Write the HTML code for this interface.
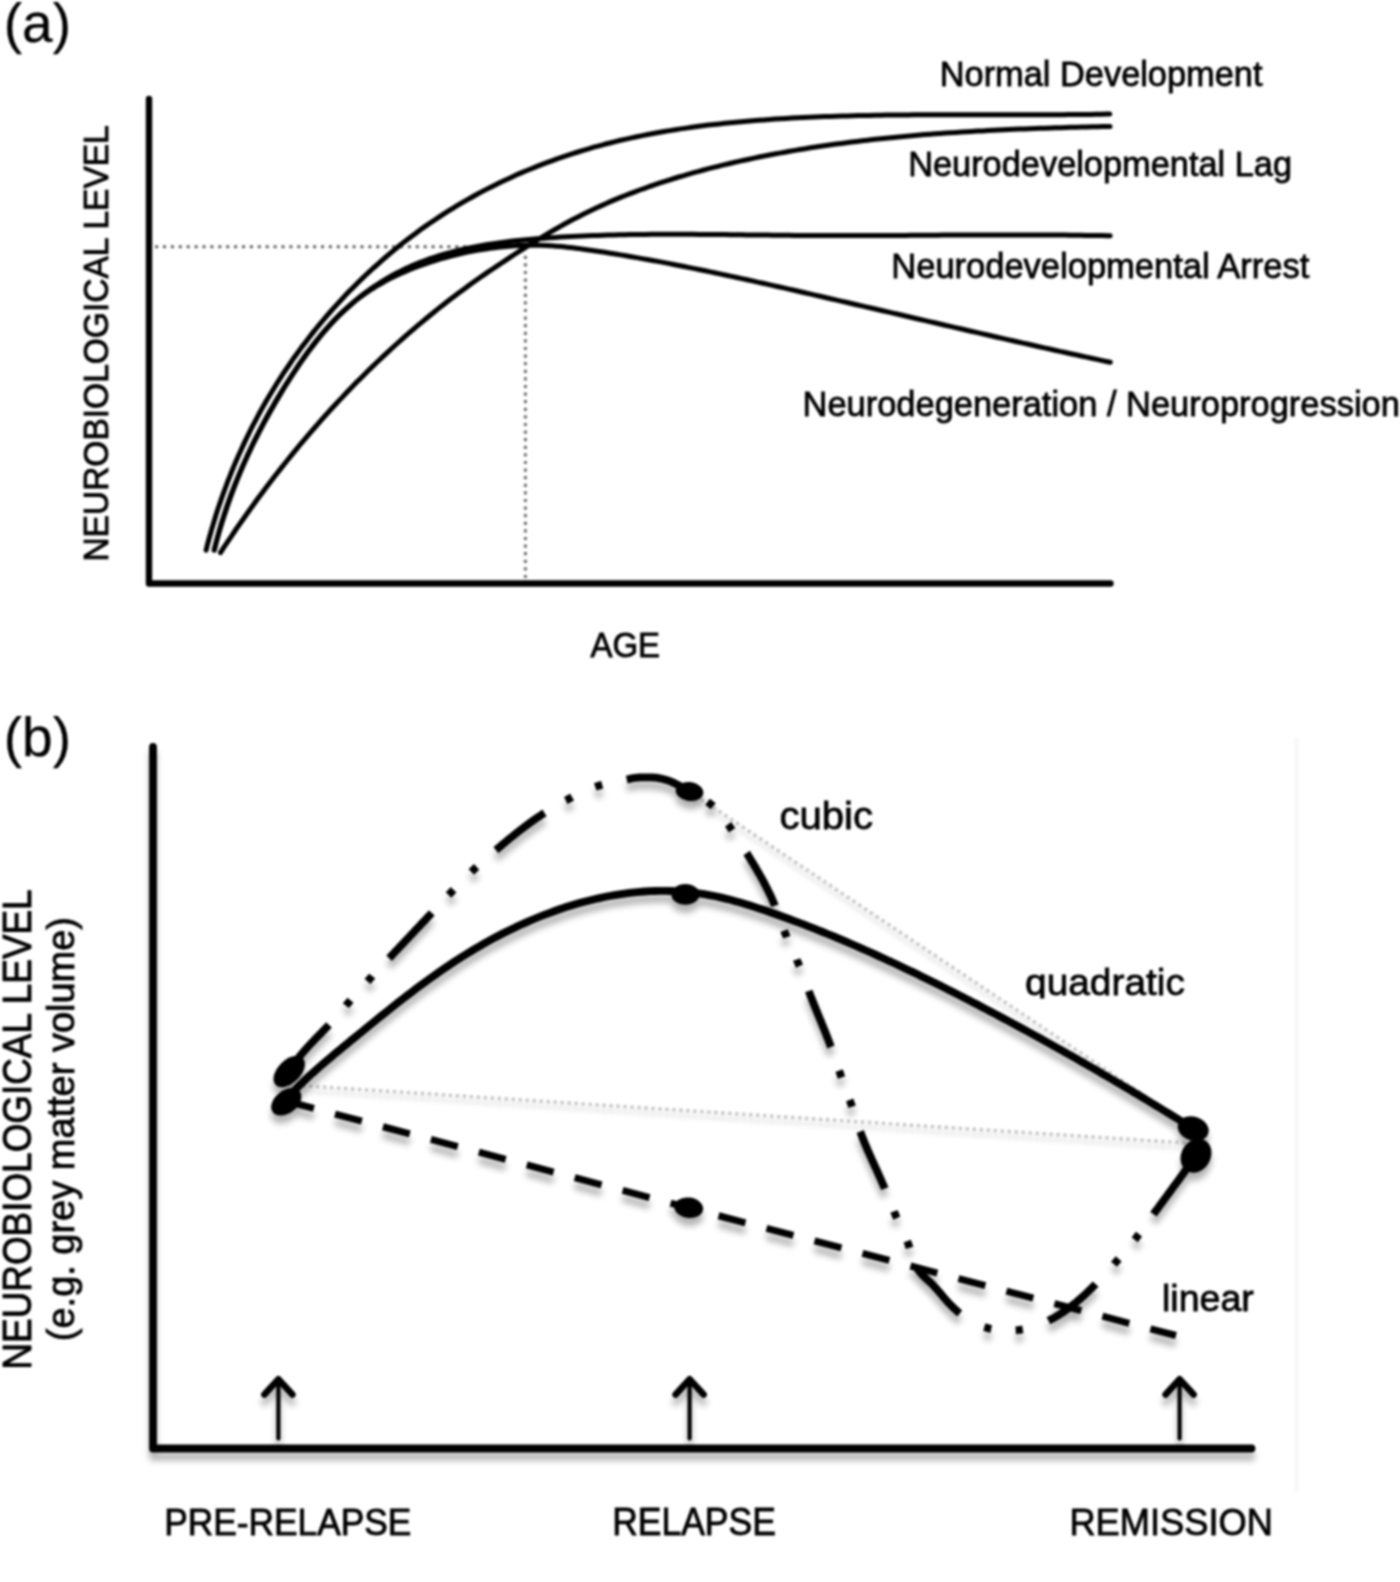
<!DOCTYPE html>
<html><head><meta charset="utf-8"><title>Figure</title>
<style>html,body{margin:0;padding:0;background:#fff;}body{width:1400px;height:1582px;overflow:hidden;font-family:"Liberation Sans",sans-serif;}svg{display:block;filter:grayscale(1) blur(1px);}</style>
</head><body>
<svg width="1400" height="1582" viewBox="0 0 1400 1582" font-family="Liberation Sans, sans-serif">
<defs>
<filter id="sh" x="-20%" y="-20%" width="140%" height="140%">
<feGaussianBlur in="SourceAlpha" stdDeviation="3.2"/>
<feOffset dx="0" dy="8" result="o"/>
<feComponentTransfer><feFuncA type="linear" slope="0.30"/></feComponentTransfer>
<feMerge><feMergeNode/><feMergeNode in="SourceGraphic"/></feMerge>
</filter>
<filter id="sh2" x="-20%" y="-20%" width="140%" height="140%">
<feGaussianBlur in="SourceAlpha" stdDeviation="2.6"/>
<feOffset dx="0" dy="5" result="o"/>
<feComponentTransfer><feFuncA type="linear" slope="0.2"/></feComponentTransfer>
<feMerge><feMergeNode/><feMergeNode in="SourceGraphic"/></feMerge>
</filter>
<clipPath id="qclip"><rect x="1000" y="940" width="220" height="58.5"/></clipPath>
</defs>
<rect width="1400" height="1582" fill="#fff"/>
<path d="M149,99 L149,583.5 L1110.5,583.5" fill="none" stroke="#000" stroke-width="6.4" stroke-linecap="round" stroke-linejoin="round"/>
<path d="M155,246.8 L526,246.8" stroke="#6a6a6a" stroke-width="3" stroke-dasharray="3.2,4.7"/>
<path d="M525.4,252 L525.4,581" stroke="#707070" stroke-width="3" stroke-dasharray="3.2,4.4" stroke-dashoffset="-3.7"/>
<path d="M206.1,550.2 L207.4,544.8 L208.8,539.5 L210.3,534.2 L211.8,528.9 L213.4,523.6 L215.0,518.3 L216.6,513.1 L218.3,507.8 L220.1,502.6 L221.9,497.4 L223.8,492.2 L225.7,487.0 L227.6,481.8 L229.7,476.6 L231.7,471.5 L233.8,466.4 L236.0,461.3 L238.2,456.2 L240.5,451.2 L242.8,446.1 L245.1,441.1 L247.6,436.1 L250.0,431.1 L252.5,426.2 L255.1,421.3 L257.7,416.4 L260.3,411.5 L263.1,406.6 L265.8,401.8 L268.6,397.0 L271.5,392.2 L274.4,387.5 L277.3,382.8 L280.3,378.1 L283.3,373.4 L286.4,368.8 L289.6,364.2 L292.7,359.6 L296.0,355.1 L299.2,350.6 L302.5,346.1 L305.9,341.7 L309.3,337.3 L312.7,332.9 L316.2,328.5 L319.8,324.2 L323.3,320.0 L327.0,315.7 L330.6,311.5 L334.3,307.4 L338.0,303.3 L341.8,299.2 L345.6,295.1 L349.5,291.1 L353.4,287.2 L357.3,283.2 L361.3,279.4 L365.3,275.5 L369.4,271.7 L373.4,268.0 L377.6,264.3 L381.7,260.6 L385.9,257.0 L390.1,253.4 L394.4,249.8 L398.7,246.3 L403.0,242.9 L407.4,239.5 L411.8,236.2 L416.2,232.9 L420.7,229.6 L425.2,226.4 L429.7,223.3 L434.3,220.2 L438.9,217.1 L443.5,214.1 L448.1,211.2 L452.8,208.3 L457.5,205.4 L462.2,202.6 L467.0,199.9 L471.8,197.2 L476.6,194.5 L481.5,191.9 L486.3,189.4 L491.2,186.9 L496.2,184.4 L501.1,182.0 L506.1,179.7 L511.1,177.4 L516.1,175.1 L521.1,172.9 L526.2,170.8 L531.3,168.7 L536.4,166.6 L541.5,164.6 L546.7,162.7 L551.8,160.8 L557.0,158.9 L562.2,157.1 L567.4,155.3 L572.7,153.6 L577.9,152.0 L583.2,150.3 L588.5,148.8 L593.8,147.2 L599.1,145.8 L604.5,144.3 L609.8,143.0 L615.2,141.6 L620.6,140.3 L626.0,139.1 L631.4,137.9 L636.8,136.7 L642.2,135.6 L647.7,134.5 L653.1,133.5 L658.6,132.5 L664.1,131.5 L669.6,130.6 L675.1,129.7 L680.6,128.9 L686.1,128.1 L691.6,127.3 L697.1,126.5 L702.6,125.8 L708.2,125.1 L713.7,124.5 L719.3,123.9 L724.8,123.3 L730.4,122.7 L735.9,122.2 L741.5,121.7 L747.1,121.2 L752.6,120.7 L758.2,120.3 L763.8,119.9 L769.4,119.5 L774.9,119.1 L780.5,118.8 L786.1,118.4 L791.6,118.1 L797.2,117.8 L802.8,117.5 L808.3,117.3 L813.9,117.0 L819.5,116.8 L825.0,116.6 L830.6,116.4 L836.1,116.2 L841.7,116.0 L847.2,115.9 L852.8,115.7 L858.3,115.6 L863.9,115.5 L869.4,115.4 L875.0,115.3 L880.5,115.2 L886.1,115.1 L891.6,115.0 L897.1,115.0 L902.7,114.9 L908.2,114.9 L913.7,114.8 L919.3,114.8 L924.8,114.8 L930.3,114.8 L935.9,114.7 L941.4,114.7 L946.9,114.7 L952.4,114.7 L958.0,114.7 L963.5,114.7 L969.0,114.7 L974.5,114.7 L980.0,114.7 L985.6,114.7 L991.1,114.8 L996.6,114.8 L1002.1,114.8 L1007.6,114.8 L1013.2,114.8 L1018.7,114.8 L1024.2,114.8 L1029.7,114.8 L1035.2,114.8 L1040.7,114.8 L1046.3,114.7 L1051.8,114.7 L1057.3,114.7 L1062.8,114.7 L1068.3,114.6 L1073.9,114.6 L1079.4,114.5 L1084.9,114.5 L1090.4,114.4 L1095.9,114.3 L1101.4,114.2 L1107.0,114.1 L1109.7,114.1" fill="none" stroke="#000" stroke-width="5.0" stroke-linecap="round" stroke-linejoin="round"/>
<path d="M220.5,552.6 L223.3,548.2 L226.2,543.9 L229.1,539.6 L232.0,535.3 L234.9,531.0 L237.8,526.7 L240.8,522.5 L243.8,518.2 L246.8,514.0 L249.8,509.7 L252.9,505.5 L255.9,501.3 L259.0,497.1 L262.1,492.9 L265.2,488.8 L268.4,484.6 L271.5,480.5 L274.7,476.3 L277.9,472.2 L281.1,468.1 L284.4,464.0 L287.6,460.0 L290.9,455.9 L294.2,451.9 L297.5,447.9 L300.8,443.8 L304.2,439.9 L307.6,435.9 L311.0,431.9 L314.4,428.0 L317.8,424.1 L321.2,420.1 L324.7,416.3 L328.2,412.4 L331.7,408.5 L335.2,404.7 L338.8,400.9 L342.4,397.1 L346.0,393.3 L349.6,389.5 L353.2,385.8 L356.8,382.1 L360.5,378.4 L364.2,374.7 L367.9,371.0 L371.6,367.4 L375.4,363.8 L379.1,360.2 L382.9,356.6 L386.7,353.1 L390.6,349.5 L394.4,346.0 L398.3,342.5 L402.1,339.1 L406.0,335.6 L410.0,332.2 L413.9,328.8 L417.9,325.4 L421.9,322.1 L425.9,318.8 L429.9,315.5 L433.9,312.2 L438.0,308.9 L442.1,305.7 L446.2,302.5 L450.3,299.3 L454.4,296.2 L458.6,293.1 L462.8,290.0 L466.9,286.9 L471.2,283.8 L475.4,280.8 L479.7,277.8 L483.9,274.9 L488.2,271.9 L492.6,269.0 L496.9,266.1 L501.2,263.2 L505.6,260.3 L510.0,257.4 L514.4,254.5 L518.8,251.7 L523.3,248.8 L527.8,245.9 L532.2,243.1 L536.7,240.3 L541.3,237.6 L545.8,234.8 L550.3,232.1 L554.9,229.5 L559.5,226.9 L564.1,224.3 L568.7,221.8 L573.3,219.3 L578.0,216.9 L582.7,214.5 L587.3,212.2 L592.0,210.0 L596.7,207.7 L601.5,205.6 L606.2,203.5 L610.9,201.4 L615.7,199.4 L620.5,197.4 L625.3,195.5 L630.1,193.6 L634.9,191.8 L639.7,190.0 L644.6,188.3 L649.4,186.5 L654.3,184.9 L659.2,183.2 L664.1,181.6 L669.0,180.1 L673.9,178.5 L678.8,177.0 L683.8,175.6 L688.7,174.1 L693.7,172.7 L698.7,171.4 L703.6,170.0 L708.6,168.7 L713.6,167.4 L718.7,166.2 L723.7,164.9 L728.7,163.7 L733.7,162.5 L738.8,161.4 L743.9,160.3 L748.9,159.2 L754.0,158.1 L759.1,157.0 L764.2,156.0 L769.3,155.0 L774.4,154.0 L779.5,153.1 L784.6,152.2 L789.7,151.2 L794.9,150.4 L800.0,149.5 L805.2,148.7 L810.3,147.8 L815.5,147.0 L820.6,146.3 L825.8,145.5 L831.0,144.8 L836.2,144.1 L841.3,143.4 L846.5,142.7 L851.7,142.0 L856.9,141.4 L862.1,140.8 L867.3,140.2 L872.5,139.6 L877.8,139.0 L883.0,138.5 L888.2,137.9 L893.4,137.4 L898.6,136.9 L903.9,136.4 L909.1,136.0 L914.3,135.5 L919.6,135.1 L924.8,134.6 L930.0,134.2 L935.3,133.8 L940.5,133.5 L945.7,133.1 L951.0,132.7 L956.2,132.4 L961.5,132.1 L966.7,131.7 L971.9,131.4 L977.2,131.1 L982.4,130.9 L987.7,130.6 L992.9,130.3 L998.1,130.1 L1003.4,129.8 L1008.6,129.6 L1013.8,129.3 L1019.1,129.1 L1024.3,128.9 L1029.5,128.7 L1034.7,128.5 L1040.0,128.3 L1045.2,128.2 L1050.4,128.0 L1055.6,127.8 L1060.8,127.7 L1066.0,127.5 L1071.2,127.3 L1076.4,127.2 L1081.6,127.1 L1086.8,126.9 L1091.9,126.8 L1097.1,126.7 L1102.3,126.5 L1107.4,126.4 L1110.0,126.4" fill="none" stroke="#000" stroke-width="5.0" stroke-linecap="round" stroke-linejoin="round"/>
<path d="M214.4,549.9 L215.6,544.8 L216.9,539.6 L218.3,534.5 L219.7,529.4 L221.1,524.3 L222.7,519.3 L224.3,514.2 L225.9,509.2 L227.6,504.2 L229.4,499.2 L231.2,494.2 L233.1,489.3 L235.1,484.3 L237.1,479.4 L239.1,474.5 L241.2,469.6 L243.3,464.8 L245.5,459.9 L247.7,455.1 L250.0,450.3 L252.3,445.5 L254.7,440.7 L257.1,436.0 L259.5,431.3 L262.0,426.5 L264.5,421.8 L267.1,417.2 L269.7,412.5 L272.3,407.9 L275.0,403.3 L277.7,398.7 L280.4,394.1 L283.1,389.5 L285.9,385.0 L288.7,380.5 L291.5,376.0 L294.4,371.5 L297.3,367.1 L300.3,362.7 L303.3,358.3 L306.4,354.0 L309.5,349.7 L312.7,345.5 L315.9,341.3 L319.2,337.2 L322.6,333.1 L326.1,329.1 L329.6,325.2 L333.2,321.3 L336.8,317.5 L340.6,313.8 L344.5,310.1 L348.4,306.6 L352.4,303.1 L356.5,299.6 L360.7,296.3 L364.9,293.1 L369.2,289.9 L373.6,286.9 L378.0,284.0 L382.5,281.1 L387.1,278.4 L391.7,275.8 L396.3,273.3 L401.0,270.9 L405.8,268.6 L410.5,266.4 L415.4,264.3 L420.2,262.4 L425.1,260.5 L430.0,258.7 L435.0,257.1 L440.0,255.5 L445.1,254.0 L450.1,252.6 L455.2,251.2 L460.3,250.0 L465.5,248.8 L470.6,247.7 L475.8,246.7 L481.0,245.7 L486.3,244.8 L491.5,243.9 L496.8,243.2 L502.1,242.4 L507.4,241.8 L512.7,241.1 L518.0,240.5 L523.3,240.0 L528.6,239.5 L534.0,239.0 L539.3,238.6 L544.6,238.2 L550.0,237.8 L555.3,237.5 L560.7,237.1 L566.0,236.8 L571.3,236.5 L576.7,236.3 L582.0,236.0 L587.3,235.8 L592.7,235.6 L598.0,235.4 L603.3,235.2 L608.6,235.1 L614.0,234.9 L619.3,234.8 L624.6,234.7 L629.9,234.6 L635.2,234.5 L640.6,234.5 L645.9,234.4 L651.2,234.3 L656.5,234.3 L661.8,234.3 L667.1,234.3 L672.4,234.3 L677.7,234.3 L683.0,234.3 L688.3,234.3 L693.6,234.3 L698.9,234.4 L704.2,234.4 L709.5,234.5 L714.8,234.5 L720.1,234.6 L725.4,234.6 L730.7,234.7 L736.0,234.7 L741.3,234.8 L746.6,234.9 L751.9,234.9 L757.2,235.0 L762.5,235.1 L767.8,235.1 L773.1,235.2 L778.4,235.2 L783.7,235.3 L789.0,235.3 L794.3,235.4 L799.5,235.4 L804.8,235.5 L810.1,235.5 L815.4,235.5 L820.7,235.5 L826.0,235.5 L831.3,235.6 L836.6,235.6 L841.9,235.6 L847.2,235.6 L852.5,235.6 L857.8,235.5 L863.0,235.5 L868.3,235.5 L873.6,235.5 L878.9,235.5 L884.2,235.5 L889.5,235.4 L894.8,235.4 L900.1,235.4 L905.4,235.4 L910.7,235.3 L916.0,235.3 L921.3,235.3 L926.6,235.2 L931.9,235.2 L937.2,235.2 L942.5,235.1 L947.8,235.1 L953.1,235.1 L958.4,235.1 L963.7,235.0 L969.0,235.0 L974.3,235.0 L979.6,235.0 L984.9,234.9 L990.2,234.9 L995.5,234.9 L1000.9,234.9 L1006.2,234.9 L1011.5,234.9 L1016.8,234.9 L1022.1,234.9 L1027.4,234.9 L1032.8,234.9 L1038.1,235.0 L1043.4,235.0 L1048.7,235.0 L1054.1,235.0 L1059.4,235.1 L1064.7,235.1 L1070.0,235.2 L1075.4,235.2 L1080.7,235.3 L1086.1,235.4 L1091.4,235.5 L1096.7,235.6 L1102.1,235.6 L1107.4,235.8 L1110.1,235.8" fill="none" stroke="#000" stroke-width="5.0" stroke-linecap="round" stroke-linejoin="round"/>
<path d="M214.1,550.1 L215.5,544.8 L217.0,539.6 L218.4,534.4 L219.9,529.2 L221.5,524.1 L223.1,518.9 L224.8,513.8 L226.5,508.7 L228.2,503.6 L230.0,498.6 L231.8,493.6 L233.7,488.6 L235.6,483.6 L237.6,478.6 L239.6,473.7 L241.7,468.7 L243.8,463.8 L246.0,458.9 L248.1,454.1 L250.4,449.2 L252.7,444.4 L255.0,439.6 L257.4,434.9 L259.8,430.1 L262.3,425.4 L264.8,420.7 L267.3,416.0 L269.9,411.3 L272.6,406.7 L275.2,402.0 L278.0,397.4 L280.8,392.9 L283.6,388.3 L286.4,383.8 L289.4,379.3 L292.3,374.8 L295.3,370.3 L298.3,365.8 L301.4,361.4 L304.6,357.0 L307.7,352.6 L311.0,348.3 L314.3,344.0 L317.6,339.7 L321.0,335.5 L324.4,331.4 L328.0,327.3 L331.6,323.3 L335.2,319.4 L339.0,315.6 L342.8,311.9 L346.7,308.3 L350.7,304.8 L354.7,301.4 L358.9,298.1 L363.2,294.9 L367.5,291.9 L371.9,289.0 L376.5,286.2 L381.1,283.5 L385.7,280.9 L390.5,278.4 L395.3,276.0 L400.1,273.7 L405.0,271.6 L410.0,269.5 L415.0,267.5 L420.0,265.6 L425.1,263.8 L430.2,262.1 L435.3,260.5 L440.4,258.9 L445.6,257.5 L450.8,256.1 L456.0,254.8 L461.2,253.6 L466.4,252.4 L471.6,251.4 L476.9,250.4 L482.1,249.5 L487.4,248.7 L492.7,247.9 L498.0,247.3 L503.3,246.7 L508.6,246.2 L513.9,245.8 L519.2,245.5 L524.5,245.3 L529.9,245.1 L535.2,245.2 L540.6,245.3 L545.9,245.5 L551.3,245.8 L556.6,246.2 L562.0,246.6 L567.3,247.2 L572.7,247.8 L578.0,248.4 L583.4,249.2 L588.7,249.9 L594.1,250.7 L599.4,251.5 L604.7,252.3 L610.1,253.2 L615.4,254.0 L620.7,254.9 L626.0,255.8 L631.3,256.7 L636.6,257.6 L641.9,258.6 L647.2,259.5 L652.5,260.5 L657.8,261.4 L663.1,262.4 L668.4,263.4 L673.7,264.5 L678.9,265.5 L684.2,266.5 L689.5,267.6 L694.7,268.6 L700.0,269.7 L705.2,270.8 L710.5,271.9 L715.7,273.0 L721.0,274.1 L726.2,275.2 L731.5,276.4 L736.7,277.5 L741.9,278.6 L747.2,279.8 L752.4,280.9 L757.6,282.1 L762.9,283.2 L768.1,284.4 L773.3,285.6 L778.5,286.8 L783.7,287.9 L788.9,289.1 L794.2,290.3 L799.4,291.5 L804.6,292.7 L809.8,293.9 L815.0,295.1 L820.2,296.3 L825.4,297.5 L830.6,298.7 L835.8,299.9 L841.0,301.1 L846.2,302.3 L851.4,303.5 L856.6,304.7 L861.8,305.9 L867.0,307.1 L872.2,308.3 L877.4,309.5 L882.6,310.7 L887.8,311.9 L893.0,313.1 L898.2,314.3 L903.4,315.5 L908.6,316.8 L913.8,318.0 L919.1,319.2 L924.3,320.4 L929.5,321.6 L934.7,322.8 L939.9,324.0 L945.1,325.2 L950.3,326.4 L955.5,327.6 L960.7,328.8 L965.9,330.0 L971.1,331.2 L976.4,332.4 L981.6,333.6 L986.8,334.8 L992.0,336.0 L997.2,337.2 L1002.5,338.4 L1007.7,339.6 L1012.9,340.8 L1018.2,342.0 L1023.4,343.1 L1028.6,344.3 L1033.9,345.5 L1039.1,346.7 L1044.4,347.9 L1049.6,349.0 L1054.9,350.2 L1060.1,351.4 L1065.4,352.5 L1070.7,353.7 L1075.9,354.8 L1081.2,356.0 L1086.5,357.1 L1091.7,358.3 L1097.0,359.4 L1102.3,360.6 L1107.6,361.7 L1110.3,362.3" fill="none" stroke="#000" stroke-width="5.0" stroke-linecap="round" stroke-linejoin="round"/>
<line x1="1296.5" y1="737" x2="1296.5" y2="1492" stroke="#f9f9f9" stroke-width="5"/>
<g filter="url(#sh2)">
<path d="M288,1084.8 L1194,1143.5" stroke="#cacaca" stroke-width="3.6" stroke-dasharray="3.5,3.5"/>
<path d="M689.5,791.5 L1193,1128" stroke="#cacaca" stroke-width="3.6" stroke-dasharray="3.5,3.5"/>
</g>
<g filter="url(#sh)">
<path d="M153,747 L153,1448.5 L1251.5,1448.5" fill="none" stroke="#000" stroke-width="7.8" stroke-linecap="round" stroke-linejoin="round"/>
<path d="M278.4,1438.5 L278.4,1381" stroke="#000" stroke-width="4.2" stroke-linecap="round"/>
<path d="M264.4,1394.5 L278.4,1379.2 L292.4,1394.5" fill="none" stroke="#000" stroke-width="6.6" stroke-linecap="round" stroke-linejoin="round"/>
<path d="M689.6,1438.5 L689.6,1381" stroke="#000" stroke-width="4.2" stroke-linecap="round"/>
<path d="M675.6,1394.5 L689.6,1379.2 L703.6,1394.5" fill="none" stroke="#000" stroke-width="6.6" stroke-linecap="round" stroke-linejoin="round"/>
<path d="M1179.6,1438.5 L1179.6,1381" stroke="#000" stroke-width="4.2" stroke-linecap="round"/>
<path d="M1165.6,1394.5 L1179.6,1379.2 L1193.6,1394.5" fill="none" stroke="#000" stroke-width="6.6" stroke-linecap="round" stroke-linejoin="round"/>
<path d="M286,1101 L687,1207.5 L1176,1335.5" fill="none" stroke="#000" stroke-width="7.0" stroke-dasharray="27.8,21.8" stroke-dashoffset="-1.1"/>
<path d="M286.6,1098.9 L290.2,1095.0 L293.8,1091.2 L297.4,1087.5 L301.1,1083.8 L304.9,1080.2 L308.6,1076.7 L312.4,1073.2 L316.3,1069.8 L320.1,1066.4 L324.0,1063.0 L327.9,1059.7 L331.8,1056.4 L335.7,1053.1 L339.7,1049.9 L343.6,1046.6 L347.6,1043.4 L351.5,1040.1 L355.5,1036.9 L359.4,1033.7 L363.4,1030.4 L367.3,1027.2 L371.3,1024.0 L375.3,1020.8 L379.2,1017.6 L383.2,1014.4 L387.2,1011.2 L391.2,1008.0 L395.2,1004.8 L399.2,1001.7 L403.3,998.5 L407.3,995.4 L411.4,992.3 L415.5,989.2 L419.5,986.2 L423.7,983.1 L427.8,980.1 L432.0,977.1 L436.1,974.2 L440.3,971.2 L444.6,968.3 L448.8,965.5 L453.1,962.6 L457.4,959.8 L461.7,957.0 L466.1,954.3 L470.5,951.6 L474.9,948.9 L479.4,946.3 L483.9,943.7 L488.4,941.2 L492.9,938.7 L497.5,936.2 L502.2,933.8 L506.8,931.5 L511.5,929.2 L516.2,926.9 L520.9,924.8 L525.7,922.6 L530.5,920.5 L535.3,918.5 L540.1,916.5 L544.9,914.6 L549.8,912.8 L554.7,911.0 L559.6,909.3 L564.5,907.6 L569.5,906.1 L574.4,904.6 L579.4,903.1 L584.4,901.7 L589.4,900.4 L594.4,899.2 L599.4,898.1 L604.4,897.0 L609.4,896.0 L614.5,895.1 L619.5,894.3 L624.6,893.6 L629.6,892.9 L634.7,892.4 L639.8,891.9 L644.8,891.5 L649.9,891.2 L655.0,891.0 L660.0,890.9 L665.1,890.9 L670.2,891.0 L675.2,891.2 L680.3,891.4 L685.3,891.8 L690.4,892.3 L695.4,892.9 L700.4,893.6 L705.4,894.4 L710.4,895.3 L715.4,896.3 L720.4,897.4 L725.3,898.6 L730.3,899.8 L735.3,901.2 L740.2,902.6 L745.1,904.0 L750.1,905.5 L755.0,907.1 L759.9,908.7 L764.8,910.3 L769.6,912.0 L774.5,913.7 L779.4,915.5 L784.2,917.2 L789.1,919.0 L793.9,920.8 L798.8,922.6 L803.6,924.4 L808.4,926.3 L813.2,928.2 L818.0,930.1 L822.8,932.0 L827.6,934.0 L832.4,935.9 L837.1,937.9 L841.9,939.9 L846.6,941.9 L851.4,944.0 L856.1,946.0 L860.8,948.1 L865.6,950.2 L870.3,952.3 L875.0,954.4 L879.7,956.6 L884.4,958.7 L889.0,960.9 L893.7,963.0 L898.4,965.2 L903.0,967.4 L907.7,969.7 L912.4,971.9 L917.0,974.1 L921.6,976.4 L926.3,978.7 L930.9,981.0 L935.5,983.2 L940.1,985.5 L944.7,987.9 L949.3,990.2 L953.9,992.5 L958.5,994.9 L963.1,997.2 L967.6,999.6 L972.2,1001.9 L976.8,1004.3 L981.3,1006.7 L985.9,1009.1 L990.4,1011.5 L995.0,1013.9 L999.5,1016.3 L1004.0,1018.7 L1008.6,1021.1 L1013.1,1023.6 L1017.6,1026.0 L1022.1,1028.5 L1026.6,1030.9 L1031.1,1033.4 L1035.6,1035.9 L1040.1,1038.3 L1044.6,1040.8 L1049.1,1043.3 L1053.5,1045.8 L1058.0,1048.3 L1062.5,1050.8 L1066.9,1053.4 L1071.4,1055.9 L1075.9,1058.4 L1080.3,1061.0 L1084.8,1063.5 L1089.2,1066.1 L1093.7,1068.6 L1098.1,1071.2 L1102.5,1073.8 L1107.0,1076.4 L1111.4,1079.0 L1115.8,1081.6 L1120.2,1084.2 L1124.7,1086.8 L1129.1,1089.4 L1133.5,1092.1 L1137.9,1094.7 L1142.3,1097.4 L1146.7,1100.0 L1151.1,1102.7 L1155.5,1105.3 L1159.9,1108.0 L1164.3,1110.7 L1168.7,1113.4 L1173.1,1116.1 L1177.5,1118.8 L1181.9,1121.5 L1186.3,1124.2 L1190.6,1127.0 L1192.8,1128.3" fill="none" stroke="#000" stroke-width="7.8" stroke-linecap="round" stroke-linejoin="round"/>
<path d="M288.6,1071.4 L289.4,1070.2 L290.3,1069.1 L291.1,1067.9 L291.9,1066.7 L292.8,1065.6 L293.6,1064.4 L294.5,1063.2 L295.3,1062.1 L296.2,1060.9 L297.0,1059.8 L297.9,1058.6 L298.8,1057.5 L299.7,1056.4 L300.6,1055.3 L301.5,1054.2 L302.4,1053.1 L303.3,1052.0 L304.3,1050.9 L305.2,1049.8 L306.2,1048.8 L307.1,1047.7 L308.1,1046.6 L309.1,1045.6 L310.1,1044.5 L311.0,1043.5 L312.0,1042.5 L313.0,1041.4 L314.0,1040.4 L315.0,1039.3 L316.0,1038.3 L317.0,1037.3 L318.0,1036.3 L319.0,1035.2 L320.0,1034.2 L321.0,1033.2 L322.0,1032.1 L323.0,1031.1 L324.0,1030.1 L325.0,1029.0 L326.0,1028.0 L327.0,1026.9 L328.0,1025.9 L329.0,1024.8 L329.9,1023.8 L330.9,1022.7 L331.9,1021.7 L332.8,1020.6 L333.8,1019.5 L334.7,1018.4 L335.7,1017.4 L336.6,1016.3 L337.6,1015.2 L338.5,1014.1 L339.4,1013.0 L340.4,1012.0 L341.3,1010.9 L342.3,1009.8 L343.2,1008.7 L344.1,1007.6 L345.1,1006.5 L346.0,1005.4 L346.9,1004.3 L347.9,1003.3 L348.8,1002.2 L349.8,1001.1 L350.7,1000.0 L351.6,998.9 L352.6,997.9 L353.5,996.8 L354.5,995.7 L355.4,994.6 L356.4,993.6 L357.4,992.5 L358.3,991.4 L359.3,990.4 L360.2,989.3 L361.2,988.2 L362.2,987.2 L363.1,986.1 L364.1,985.0 L365.1,984.0 L366.0,982.9 L367.0,981.9 L368.0,980.8 L368.9,979.8 L369.9,978.7 L370.9,977.6 L371.9,976.6 L372.8,975.5 L373.8,974.5 L374.8,973.4 L375.8,972.4 L376.7,971.3 L377.7,970.3 L378.7,969.2 L379.7,968.2 L380.7,967.2 L381.7,966.1 L382.6,965.1 L383.6,964.0 L384.6,963.0 L385.6,961.9 L386.6,960.9 L387.6,959.8 L388.5,958.8 L389.5,957.8 L390.5,956.7 L391.5,955.7 L392.5,954.6 L393.5,953.6 L394.5,952.5 L395.4,951.5 L396.4,950.5 L397.4,949.4 L398.4,948.4 L399.4,947.3 L400.4,946.3 L401.4,945.2 L402.3,944.2 L403.3,943.2 L404.3,942.1 L405.3,941.1 L406.3,940.0 L407.3,939.0 L408.3,937.9 L409.2,936.9 L410.2,935.9 L411.2,934.8 L412.2,933.8 L413.2,932.7 L414.2,931.7 L415.1,930.6 L416.1,929.6 L417.1,928.6 L418.1,927.5 L419.1,926.5 L420.1,925.4 L421.0,924.4 L422.0,923.3 L423.0,922.3 L424.0,921.2 L425.0,920.2 L426.0,919.1 L426.9,918.1 L427.9,917.0 L428.9,916.0 L429.9,914.9 L430.9,913.9 L431.8,912.9 L432.8,911.8 L433.8,910.8 L434.8,909.7 L435.8,908.7 L436.7,907.6 L437.7,906.6 L438.7,905.5 L439.7,904.5 L440.6,903.4 L441.6,902.4 L442.6,901.3 L443.6,900.3 L444.6,899.2 L445.5,898.2 L446.5,897.1 L447.5,896.1 L448.5,895.0 L449.5,894.0 L450.5,893.0 L451.5,891.9 L452.5,890.9 L453.4,889.8 L454.4,888.8 L455.4,887.8 L456.4,886.7 L457.4,885.7 L458.4,884.7 L459.4,883.7 L460.4,882.6 L461.5,881.6 L462.5,880.6 L463.5,879.6 L464.5,878.6 L465.5,877.6 L466.5,876.5 L467.6,875.5 L468.6,874.5 L469.6,873.5 L470.7,872.6 L471.7,871.6 L472.7,870.6 L473.8,869.6 L474.8,868.6 L475.9,867.6 L476.9,866.7 L478.0,865.7 L479.1,864.7 L480.1,863.8 L481.2,862.8 L482.3,861.9 L483.3,860.9 L484.4,860.0 L485.5,859.0 L486.6,858.1 L487.7,857.1 L488.7,856.2 L489.8,855.3 L490.9,854.3 L492.0,853.4 L493.1,852.5 L494.2,851.5 L495.3,850.6 L496.4,849.7 L497.5,848.7 L498.6,847.8 L499.7,846.9 L500.8,846.0 L501.9,845.0 L503.0,844.1 L504.1,843.2 L505.2,842.3 L506.3,841.4 L507.4,840.4 L508.5,839.5 L509.6,838.6 L510.7,837.7 L511.9,836.8 L513.0,835.9 L514.1,835.0 L515.2,834.1 L516.4,833.2 L517.5,832.3 L518.6,831.4 L519.7,830.5 L520.9,829.7 L522.0,828.8 L523.2,827.9 L524.3,827.0 L525.4,826.2 L526.6,825.3 L527.7,824.5 L528.9,823.6 L530.1,822.8 L531.2,821.9 L532.4,821.1 L533.6,820.3 L534.7,819.4 L535.9,818.6 L537.1,817.8 L538.3,817.0 L539.5,816.2 L540.7,815.4 L541.8,814.6 L543.0,813.8 L544.2,813.1 L545.5,812.3 L546.7,811.5 L547.9,810.8 L549.1,810.0 L550.3,809.3 L551.6,808.5 L552.8,807.8 L554.0,807.1 L555.3,806.4 L556.5,805.6 L557.8,804.9 L559.0,804.2 L560.3,803.5 L561.5,802.8 L562.8,802.1 L564.0,801.4 L565.3,800.7 L566.6,800.1 L567.8,799.4 L569.1,798.7 L570.4,798.0 L571.7,797.4 L572.9,796.7 L574.2,796.0 L575.5,795.4 L576.8,794.7 L578.1,794.1 L579.4,793.5 L580.7,792.8 L582.0,792.2 L583.3,791.6 L584.6,791.0 L585.9,790.5 L587.2,789.9 L588.6,789.3 L589.9,788.8 L591.2,788.3 L592.6,787.8 L593.9,787.3 L595.3,786.8 L596.6,786.4 L598.0,785.9 L599.4,785.5 L600.7,785.1 L602.1,784.8 L603.5,784.4 L604.9,784.1 L606.3,783.8 L607.7,783.4 L609.1,783.1 L610.5,782.8 L611.9,782.6 L613.3,782.3 L614.7,782.0 L616.1,781.7 L617.5,781.4 L618.9,781.2 L620.4,780.9 L621.8,780.6 L623.2,780.3 L624.6,780.0 L626.0,779.7 L627.4,779.4 L628.8,779.1 L630.2,778.7 L631.6,778.4 L633.0,778.2 L634.4,777.9 L635.8,777.8 L637.3,777.6 L638.7,777.5 L640.1,777.4 L641.6,777.4 L643.0,777.3 L644.4,777.3 L645.9,777.3 L647.3,777.3 L648.7,777.3 L650.2,777.3 L651.6,777.4 L653.0,777.5 L654.5,777.6 L655.9,777.7 L657.3,777.9 L658.7,778.2 L660.2,778.4 L661.6,778.7 L663.0,779.0 L664.4,779.4 L665.7,779.8 L667.1,780.2 L668.5,780.7 L669.8,781.2 L671.1,781.7 L672.5,782.3 L673.8,782.9 L675.1,783.5 L676.3,784.2 L677.6,784.8 L678.9,785.5 L680.1,786.2 L681.4,786.9 L682.6,787.6 L683.9,788.3 L685.1,789.0 L686.4,789.7 L687.6,790.4 L688.9,791.2 L690.1,791.8 L691.4,792.5 L692.7,793.2 L693.9,793.9 L695.2,794.6 L696.5,795.3 L697.8,795.9 L699.0,796.6 L700.3,797.3 L701.5,798.0 L702.8,798.8 L704.0,799.5 L705.2,800.3 L706.4,801.0 L707.6,801.9 L708.8,802.7 L709.9,803.5 L711.0,804.4 L712.1,805.3 L713.2,806.3 L714.2,807.2 L715.2,808.2 L716.2,809.2 L717.2,810.3 L718.2,811.3 L719.1,812.4 L720.1,813.5 L721.0,814.6 L721.9,815.8 L722.8,816.9 L723.6,818.1 L724.5,819.2 L725.3,820.4 L726.2,821.6 L727.0,822.8 L727.8,824.0 L728.7,825.2 L729.5,826.4 L730.3,827.6 L731.1,828.8 L731.9,830.0 L732.7,831.2 L733.5,832.4 L734.3,833.6 L735.1,834.8 L735.8,836.0 L736.6,837.2 L737.4,838.4 L738.2,839.6 L739.0,840.8 L739.7,842.1 L740.5,843.3 L741.3,844.5 L742.0,845.7 L742.8,846.9 L743.6,848.1 L744.3,849.3 L745.1,850.5 L745.9,851.7 L746.6,852.9 L747.4,854.1 L748.1,855.4 L748.9,856.6 L749.6,857.8 L750.4,859.0 L751.1,860.3 L751.9,861.5 L752.6,862.7 L753.4,863.9 L754.1,865.2 L754.8,866.4 L755.6,867.6 L756.3,868.9 L757.0,870.1 L757.7,871.4 L758.5,872.6 L759.2,873.9 L759.9,875.1 L760.6,876.4 L761.3,877.6 L762.0,878.9 L762.7,880.2 L763.4,881.4 L764.0,882.7 L764.7,884.0 L765.4,885.2 L766.0,886.5 L766.7,887.8 L767.3,889.1 L768.0,890.4 L768.6,891.7 L769.2,892.9 L769.8,894.2 L770.5,895.5 L771.1,896.8 L771.7,898.2 L772.2,899.5 L772.8,900.8 L773.4,902.1 L773.9,903.4 L774.5,904.7 L775.0,906.1 L775.6,907.4 L776.1,908.7 L776.6,910.1 L777.1,911.4 L777.6,912.8 L778.1,914.1 L778.6,915.5 L779.1,916.8 L779.6,918.2 L780.1,919.5 L780.5,920.9 L781.0,922.2 L781.5,923.6 L782.0,924.9 L782.5,926.3 L783.0,927.6 L783.5,928.9 L784.0,930.3 L784.5,931.6 L785.0,933.0 L785.6,934.3 L786.1,935.6 L786.7,936.9 L787.2,938.3 L787.8,939.6 L788.4,940.9 L788.9,942.2 L789.5,943.5 L790.1,944.8 L790.7,946.1 L791.3,947.5 L791.9,948.8 L792.5,950.1 L793.1,951.4 L793.7,952.7 L794.2,954.0 L794.8,955.3 L795.4,956.6 L796.0,957.9 L796.6,959.2 L797.1,960.6 L797.7,961.9 L798.3,963.2 L798.8,964.5 L799.3,965.9 L799.9,967.2 L800.4,968.5 L800.9,969.9 L801.4,971.2 L801.9,972.5 L802.4,973.9 L802.9,975.2 L803.4,976.6 L803.9,977.9 L804.4,979.3 L804.9,980.6 L805.4,982.0 L805.9,983.3 L806.4,984.7 L806.9,986.0 L807.4,987.4 L807.9,988.7 L808.4,990.0 L808.9,991.4 L809.4,992.7 L809.9,994.1 L810.4,995.4 L810.9,996.8 L811.5,998.1 L812.0,999.4 L812.5,1000.8 L813.1,1002.1 L813.6,1003.4 L814.1,1004.8 L814.7,1006.1 L815.2,1007.4 L815.7,1008.7 L816.3,1010.1 L816.8,1011.4 L817.4,1012.7 L817.9,1014.1 L818.4,1015.4 L819.0,1016.7 L819.5,1018.0 L820.1,1019.4 L820.6,1020.7 L821.2,1022.0 L821.7,1023.4 L822.2,1024.7 L822.8,1026.0 L823.3,1027.4 L823.9,1028.7 L824.4,1030.0 L824.9,1031.3 L825.5,1032.7 L826.0,1034.0 L826.5,1035.3 L827.0,1036.7 L827.6,1038.0 L828.1,1039.4 L828.6,1040.7 L829.1,1042.0 L829.6,1043.4 L830.1,1044.7 L830.6,1046.1 L831.1,1047.4 L831.6,1048.8 L832.0,1050.1 L832.5,1051.5 L833.0,1052.8 L833.5,1054.2 L833.9,1055.5 L834.4,1056.9 L834.9,1058.3 L835.3,1059.6 L835.8,1061.0 L836.2,1062.3 L836.7,1063.7 L837.2,1065.1 L837.6,1066.4 L838.1,1067.8 L838.6,1069.1 L839.0,1070.5 L839.5,1071.8 L840.0,1073.2 L840.5,1074.5 L840.9,1075.9 L841.4,1077.2 L841.9,1078.6 L842.4,1079.9 L842.9,1081.3 L843.4,1082.6 L843.9,1084.0 L844.4,1085.3 L844.9,1086.7 L845.4,1088.0 L845.9,1089.4 L846.4,1090.7 L846.9,1092.1 L847.4,1093.4 L847.9,1094.7 L848.4,1096.1 L848.8,1097.4 L849.3,1098.8 L849.8,1100.1 L850.3,1101.5 L850.7,1102.9 L851.2,1104.2 L851.7,1105.6 L852.1,1106.9 L852.6,1108.3 L853.0,1109.7 L853.5,1111.0 L853.9,1112.4 L854.3,1113.8 L854.8,1115.1 L855.2,1116.5 L855.6,1117.9 L856.1,1119.2 L856.5,1120.6 L857.0,1122.0 L857.4,1123.3 L857.9,1124.7 L858.3,1126.1 L858.8,1127.4 L859.3,1128.8 L859.7,1130.1 L860.2,1131.5 L860.7,1132.8 L861.2,1134.2 L861.7,1135.5 L862.2,1136.8 L862.7,1138.2 L863.3,1139.5 L863.8,1140.8 L864.3,1142.2 L864.9,1143.5 L865.4,1144.8 L866.0,1146.1 L866.5,1147.4 L867.1,1148.8 L867.7,1150.1 L868.2,1151.4 L868.8,1152.7 L869.4,1154.0 L870.0,1155.3 L870.6,1156.6 L871.2,1158.0 L871.7,1159.3 L872.3,1160.6 L872.9,1161.9 L873.5,1163.2 L874.1,1164.5 L874.7,1165.8 L875.3,1167.1 L875.9,1168.4 L876.5,1169.7 L877.1,1171.0 L877.7,1172.4 L878.3,1173.7 L878.8,1175.0 L879.4,1176.3 L880.0,1177.6 L880.6,1178.9 L881.2,1180.2 L881.7,1181.5 L882.3,1182.9 L882.9,1184.2 L883.4,1185.5 L884.0,1186.8 L884.6,1188.2 L885.1,1189.5 L885.6,1190.8 L886.2,1192.1 L886.7,1193.5 L887.2,1194.8 L887.8,1196.2 L888.3,1197.5 L888.8,1198.8 L889.4,1200.2 L889.9,1201.5 L890.4,1202.8 L890.9,1204.2 L891.5,1205.5 L892.0,1206.8 L892.6,1208.2 L893.1,1209.5 L893.7,1210.8 L894.2,1212.1 L894.8,1213.4 L895.4,1214.7 L895.9,1216.1 L896.5,1217.4 L897.1,1218.7 L897.7,1219.9 L898.3,1221.2 L899.0,1222.5 L899.6,1223.8 L900.2,1225.1 L900.8,1226.4 L901.4,1227.7 L902.0,1229.0 L902.6,1230.3 L903.2,1231.6 L903.8,1232.9 L904.4,1234.2 L905.0,1235.5 L905.5,1236.9 L906.1,1238.2 L906.6,1239.5 L907.1,1240.9 L907.6,1242.2 L908.1,1243.6 L908.6,1245.0 L909.0,1246.4 L909.5,1247.8 L909.9,1249.2 L910.3,1250.6 L910.7,1252.0 L911.1,1253.4 L911.5,1254.8 L912.0,1256.2 L912.4,1257.6 L912.8,1258.9 L913.3,1260.3 L913.8,1261.6 L914.4,1263.0 L914.9,1264.3 L915.5,1265.5 L916.2,1266.8 L916.9,1268.0 L917.6,1269.2 L918.4,1270.3 L919.3,1271.4 L920.2,1272.5 L921.1,1273.6 L922.1,1274.6 L923.1,1275.7 L924.1,1276.7 L925.2,1277.7 L926.2,1278.7 L927.3,1279.7 L928.4,1280.6 L929.4,1281.6 L930.5,1282.6 L931.5,1283.6 L932.6,1284.7 L933.6,1285.7 L934.6,1286.8 L935.5,1287.8 L936.5,1288.9 L937.4,1290.0 L938.4,1291.1 L939.3,1292.1 L940.2,1293.2 L941.2,1294.3 L942.1,1295.4 L943.0,1296.5 L943.9,1297.6 L944.9,1298.7 L945.8,1299.8 L946.7,1300.8 L947.7,1301.9 L948.7,1303.0 L949.7,1304.0 L950.7,1305.0 L951.7,1306.1 L952.7,1307.1 L953.7,1308.1 L954.8,1309.0 L955.8,1310.0 L956.9,1311.0 L958.0,1311.9 L959.1,1312.8 L960.2,1313.7 L961.4,1314.6 L962.5,1315.5 L963.7,1316.3 L964.9,1317.2 L966.1,1318.0 L967.3,1318.8 L968.5,1319.5 L969.8,1320.3 L971.0,1321.0 L972.3,1321.7 L973.5,1322.4 L974.8,1323.1 L976.1,1323.7 L977.4,1324.3 L978.8,1324.9 L980.1,1325.5 L981.4,1326.0 L982.8,1326.5 L984.1,1327.0 L985.5,1327.4 L986.9,1327.8 L988.3,1328.2 L989.7,1328.6 L991.1,1328.9 L992.5,1329.2 L993.9,1329.5 L995.3,1329.8 L996.7,1330.0 L998.2,1330.2 L999.6,1330.3 L1001.0,1330.5 L1002.5,1330.6 L1003.9,1330.7 L1005.4,1330.7 L1006.8,1330.7 L1008.3,1330.7 L1009.7,1330.7 L1011.2,1330.7 L1012.6,1330.6 L1014.1,1330.5 L1015.5,1330.3 L1016.9,1330.2 L1018.4,1330.0 L1019.8,1329.8 L1021.2,1329.6 L1022.7,1329.3 L1024.1,1329.1 L1025.5,1328.8 L1026.9,1328.5 L1028.3,1328.1 L1029.7,1327.8 L1031.1,1327.4 L1032.5,1327.0 L1033.8,1326.6 L1035.2,1326.1 L1036.6,1325.6 L1037.9,1325.2 L1039.3,1324.7 L1040.6,1324.1 L1042.0,1323.6 L1043.3,1323.0 L1044.6,1322.5 L1045.9,1321.9 L1047.2,1321.3 L1048.5,1320.6 L1049.8,1320.0 L1051.1,1319.3 L1052.3,1318.7 L1053.6,1318.0 L1054.8,1317.3 L1056.1,1316.6 L1057.3,1315.8 L1058.5,1315.1 L1059.8,1314.3 L1061.0,1313.5 L1062.2,1312.8 L1063.4,1312.0 L1064.6,1311.1 L1065.7,1310.3 L1066.9,1309.5 L1068.1,1308.6 L1069.2,1307.8 L1070.4,1306.9 L1071.5,1306.0 L1072.6,1305.1 L1073.8,1304.2 L1074.9,1303.3 L1076.0,1302.4 L1077.1,1301.5 L1078.2,1300.5 L1079.3,1299.6 L1080.4,1298.7 L1081.5,1297.7 L1082.6,1296.7 L1083.6,1295.8 L1084.7,1294.8 L1085.8,1293.8 L1086.8,1292.8 L1087.9,1291.8 L1088.9,1290.8 L1089.9,1289.8 L1091.0,1288.8 L1092.0,1287.8 L1093.0,1286.7 L1094.0,1285.7 L1095.1,1284.7 L1096.1,1283.6 L1097.1,1282.6 L1098.1,1281.6 L1099.1,1280.5 L1100.0,1279.5 L1101.0,1278.4 L1102.0,1277.4 L1103.0,1276.3 L1104.0,1275.3 L1104.9,1274.2 L1105.9,1273.2 L1106.9,1272.1 L1107.8,1271.1 L1108.8,1270.0 L1109.8,1268.9 L1110.7,1267.9 L1111.7,1266.8 L1112.6,1265.7 L1113.6,1264.7 L1114.5,1263.6 L1115.5,1262.5 L1116.4,1261.4 L1117.4,1260.4 L1118.3,1259.3 L1119.3,1258.2 L1120.2,1257.1 L1121.1,1256.0 L1122.1,1254.9 L1123.0,1253.9 L1123.9,1252.8 L1124.9,1251.7 L1125.8,1250.6 L1126.7,1249.5 L1127.6,1248.4 L1128.6,1247.3 L1129.5,1246.2 L1130.4,1245.1 L1131.3,1243.9 L1132.2,1242.8 L1133.1,1241.7 L1134.0,1240.6 L1134.9,1239.5 L1135.8,1238.3 L1136.7,1237.2 L1137.5,1236.1 L1138.4,1234.9 L1139.3,1233.8 L1140.1,1232.6 L1141.0,1231.5 L1141.8,1230.3 L1142.7,1229.2 L1143.5,1228.0 L1144.4,1226.9 L1145.2,1225.7 L1146.1,1224.5 L1146.9,1223.4 L1147.7,1222.2 L1148.6,1221.0 L1149.4,1219.9 L1150.3,1218.7 L1151.1,1217.5 L1151.9,1216.4 L1152.8,1215.2 L1153.6,1214.0 L1154.4,1212.9 L1155.3,1211.7 L1156.1,1210.6 L1157.0,1209.4 L1157.8,1208.2 L1158.7,1207.1 L1159.5,1205.9 L1160.4,1204.8 L1161.2,1203.6 L1162.1,1202.5 L1162.9,1201.3 L1163.8,1200.1 L1164.6,1199.0 L1165.5,1197.8 L1166.3,1196.7 L1167.2,1195.5 L1168.0,1194.4 L1168.9,1193.2 L1169.7,1192.1 L1170.6,1190.9 L1171.4,1189.8 L1172.3,1188.6 L1173.1,1187.4 L1174.0,1186.3 L1174.8,1185.1 L1175.7,1184.0 L1176.5,1182.8 L1177.4,1181.7 L1178.2,1180.5 L1179.1,1179.3 L1179.9,1178.2 L1180.7,1177.0 L1181.6,1175.8 L1182.4,1174.7 L1183.2,1173.5 L1184.1,1172.3 L1184.9,1171.2 L1185.7,1170.0 L1186.5,1168.8 L1187.4,1167.6 L1188.2,1166.4 L1189.0,1165.3 L1189.8,1164.1 L1190.6,1162.9 L1191.4,1161.7 L1192.2,1160.5 L1193.0,1159.3 L1193.8,1158.2 L1194.7,1157.0 L1195.5,1155.8 L1196.0,1155.0" fill="none" stroke="#000" stroke-width="7.8" stroke-dasharray="61.7,25.6,7.2,25.3,7.2,24.6,62.2,24.6,7.2,25.3,7.2,25.6,61.3,24.6,7.2,25.4,7.2,25.1,66.0,20.8,7.2,23.5,7.2,27.0,59.9,26.5,7.2,24.4,7.2,26.5,60.3,25.1,7.2,23.9,7.2,26.1,62.2,24.6,7.2,25.3,7.2,22.3,61.8,28.2,7.2,24.6,7.2,27.1,60.1,27.0,7.2,24.8,7.2,24.6,72.2,50.0"/>
<ellipse cx="289.2" cy="1071.5" rx="19" ry="11.4" transform="rotate(-45 289.2 1071.5)"/>
<ellipse cx="286.3" cy="1101.8" rx="17" ry="11.3" transform="rotate(-38 286.3 1101.8)"/>
<ellipse cx="689.5" cy="791.5" rx="13.9" ry="9.5" transform="rotate(8 689.5 791.5)"/>
<ellipse cx="685.4" cy="894.4" rx="14" ry="10.4"/>
<ellipse cx="688.7" cy="1207.7" rx="14.5" ry="10.2" transform="rotate(8 688.7 1207.7)"/>
<ellipse cx="1193.2" cy="1128.6" rx="15.8" ry="12" transform="rotate(18 1193.2 1128.6)"/>
<ellipse cx="1196" cy="1155.6" rx="17.8" ry="14.6" transform="rotate(-60 1196 1155.6)"/>
</g>
<text transform="translate(3.8,42.4)" font-size="55" stroke="#000" stroke-width="0.25">(a)</text>
<text transform="translate(3.8,755.5)" font-size="55" stroke="#000" stroke-width="0.25">(b)</text>
<text transform="translate(939.75,86.00) scale(1,1.000)" font-size="34.37" stroke="#000" stroke-width="0.8" >Normal Development</text>
<text transform="translate(908.15,175.50) scale(1,1.000)" font-size="34.37" stroke="#000" stroke-width="0.8" >Neurodevelopmental Lag</text>
<text transform="translate(891.34,277.80) scale(1,1.000)" font-size="34.49" stroke="#000" stroke-width="0.8" >Neurodevelopmental Arrest</text>
<text transform="translate(802.54,415.50) scale(1,1.000)" font-size="34.45" stroke="#000" stroke-width="0.8" >Neurodegeneration / Neuroprogression</text>
<text transform="translate(590.40,656.60) scale(1,1.065)" font-size="33.00" stroke="#000" stroke-width="0.8" >AGE</text>
<text transform="translate(108.30,561.58) rotate(-90) scale(1,1.065)" font-size="33.52" stroke="#000" stroke-width="0.8">NEUROBIOLOGICAL LEVEL</text>
<text transform="translate(779.39,828.60) scale(1,0.950)" font-size="40.13" stroke="#000" stroke-width="0.8" >cubic</text>
<g clip-path="url(#qclip)"><text transform="translate(1025.05,994.60) scale(1,0.950)" font-size="38.86" stroke="#000" stroke-width="0.8" >quadratic</text></g>
<text transform="translate(1161.97,1310.80) scale(1,0.990)" font-size="37.58" stroke="#000" stroke-width="0.8" >linear</text>
<text transform="translate(164.17,1535.30) scale(1,1.070)" font-size="35.32" stroke="#000" stroke-width="0.8" >PRE-RELAPSE</text>
<text transform="translate(612.16,1535.40) scale(1,1.070)" font-size="35.48" stroke="#000" stroke-width="0.8" >RELAPSE</text>
<text transform="translate(1069.40,1535.00) scale(1,1.040)" font-size="36.28" stroke="#000" stroke-width="0.8" >REMISSION</text>
<text transform="translate(31.00,1369.55) rotate(-90) scale(1,1.080)" font-size="36.89" stroke="#000" stroke-width="0.8">NEUROBIOLOGICAL LEVEL</text>
<text transform="translate(73.90,1341.18) rotate(-90) scale(1,1.000)" font-size="37.98" stroke="#000" stroke-width="0.8">(e.g. grey matter volume)</text>
</svg>
</body></html>
